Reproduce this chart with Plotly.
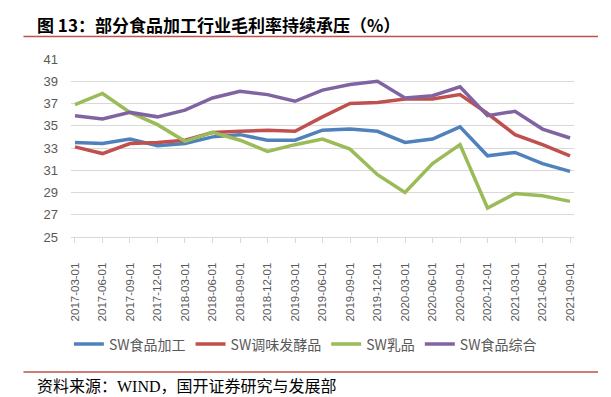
import plotly.graph_objects as go

dates = ["2017-03-01", "2017-06-01", "2017-09-01", "2017-12-01", "2018-03-01", "2018-06-01",
         "2018-09-01", "2018-12-01", "2019-03-01", "2019-06-01", "2019-09-01", "2019-12-01",
         "2020-03-01", "2020-06-01", "2020-09-01", "2020-12-01", "2021-03-01", "2021-06-01",
         "2021-09-01"]

food_processing = [33.5, 33.4, 33.8, 33.2, 33.4, 34.0, 34.2, 33.7, 33.7, 34.6, 34.7, 34.5,
                   33.5, 33.8, 34.9, 32.3, 32.6, 31.6, 30.9]
seasoning = [33.1, 32.5, 33.4, 33.5, 33.7, 34.4, 34.5, 34.6, 34.5, 35.8, 37.0, 37.1,
             37.4, 37.4, 37.8, 36.1, 34.2, 33.3, 32.3]
dairy = [36.9, 37.9, 36.2, 35.1, 33.6, 34.4, 33.7, 32.7, 33.3, 33.8, 32.9, 30.6,
         29.0, 31.6, 33.3, 27.6, 28.9, 28.7, 28.2]
food_comp = [35.9, 35.6, 36.2, 35.8, 36.4, 37.5, 38.1, 37.8, 37.2, 38.2, 38.7, 39.0,
             37.5, 37.7, 38.5, 35.9, 36.3, 34.7, 33.9]

series = [
    ("SW食品加工", food_processing, "#4F81BD"),
    ("SW调味发酵品", seasoning, "#C0504D"),
    ("SW乳品", dairy, "#9BBB59"),
    ("SW食品综合", food_comp, "#8064A2"),
]
y_ticks = [25, 27, 29, 31, 33, 35, 37, 39, 41]

fig = go.Figure()
for name, vals, color in series:
    fig.add_trace(go.Scatter(x=dates, y=vals, mode="lines", name=name,
                             line=dict(color=color, width=3.5)))

# page body has an 8px margin; work in reference coordinates and shift
OFF = 8
W, H = 611 - OFF, 397 - OFF
L, R, T, B = 71 - OFF, 37, 59 - OFF, 160
PW, PH = W - L - R, H - T - B


def px(x):
    return (x - OFF - L) / PW


def py(y):
    return (H - B - (y - OFF)) / PH


fig.update_layout(
    width=W, height=H,
    margin=dict(l=L, r=R, t=T, b=B, pad=0),
    paper_bgcolor="white", plot_bgcolor="white",
    showlegend=True,
    legend=dict(orientation="h", x=0.466, xanchor="center", y=py(344.5), yanchor="middle",
                font=dict(family="Noto Sans CJK SC", size=14, color="#595959"),
                itemwidth=30, tracegroupgap=0),
    font=dict(family="Liberation Sans, Noto Sans CJK SC", color="#595959"),
)
fig.update_xaxes(type="category", range=[-0.145, 18.145], tickangle=-90,
                 showgrid=False, showline=True, linecolor="#d9d9d9", linewidth=1,
                 ticks="outside", ticklen=5, tickcolor="#d9d9d9",
                 tickfont=dict(family="Liberation Sans", size=11.5, color="#595959"),
                 ticklabelstandoff=15)
fig.update_yaxes(range=[25, 41], tickvals=y_ticks, showgrid=True, gridcolor="#d9d9d9",
                 gridwidth=1, zeroline=False, showline=False, ticks="",
                 tickfont=dict(family="Liberation Sans", size=13, color="#595959"),
                 ticklabelstandoff=12)

# title and source, with red rules
fig.add_annotation(text="<b>图 13：部分食品加工行业毛利率持续承压（%）</b>", xref="paper", yref="paper",
                   x=px(35), y=py(24), xanchor="left", yanchor="middle",
                   showarrow=False, font=dict(family="Noto Sans CJK SC", size=17, color="black"))
fig.add_annotation(text="资料来源：WIND，国开证券研究与发展部", xref="paper", yref="paper",
                   x=px(35), y=py(386), xanchor="left", yanchor="middle", showarrow=False,
                   font=dict(family="Liberation Serif, Noto Sans CJK SC", size=16, color="black"))
for yy in (36.5, 372):
    fig.add_shape(type="line", xref="paper", yref="paper",
                  x0=px(23.5), x1=px(598), y0=py(yy), y1=py(yy),
                  line=dict(color="#C0504D", width=1.5))

fig.write_html("out.html")
